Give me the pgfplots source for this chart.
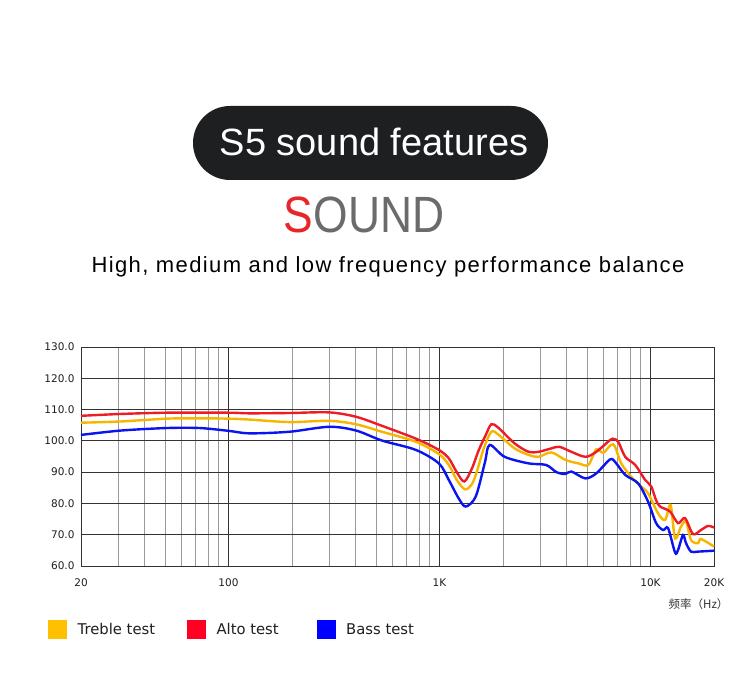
\documentclass[border=0pt]{standalone}
\usepackage{pgfplots}
\pgfplotsset{compat=1.18}
\usepackage{fontspec}
\setmainfont{Liberation Sans}
\newfontfamily\cjk{Noto Sans CJK SC}
\newfontfamily\dejavu{DejaVu Sans}
\definecolor{pillcol}{HTML}{1E1F21}
\definecolor{sred}{HTML}{E8262A}
\definecolor{sgray}{HTML}{6B6B6B}
\definecolor{cyel}{HTML}{F7B500}
\definecolor{cred}{HTML}{EE1C25}
\definecolor{cblue}{HTML}{0A14F0}
\definecolor{lyel}{HTML}{FFC000}
\definecolor{lred}{HTML}{FF0022}
\definecolor{lblue}{HTML}{0000FF}
\definecolor{gridmajor}{HTML}{333333}
\definecolor{gridminor}{HTML}{9A9A9A}
\begin{document}
\begin{tikzpicture}[x=1pt,y=1pt]
\useasboundingbox (0,0) rectangle (749,684);
\fill[white] (0,0) rectangle (749,684);
% title pill
\fill[pillcol, rounded corners=37pt] (193,504) rectangle (548,578);
\node[text=white, anchor=center] at (374,542) {\fontsize{38}{38}\selectfont S5 sound features};
% SOUND
\node[anchor=center] at (364,469) {\fontsize{51}{51}\selectfont\scalebox{0.87}[1]{\textcolor{sred}{S}\textcolor{sgray}{OUND}}};
% subtitle
\node[anchor=center, text=black] at (388,417) {\fontsize{22}{22}\selectfont\addfontfeatures{LetterSpace=6.3}High, medium and low frequency performance balance};
\begin{axis}[
  at={(81pt,118pt)}, anchor=south west,
  scale only axis, width=633pt, height=219pt,
  xmode=log, xmin=20, xmax=20000, ymin=60, ymax=130,
  xtick={20,100,1000,10000,20000},
  xticklabels={20,100,1K,10K,20K},
  minor xtick={30,40,50,60,70,80,90,200,300,400,500,600,700,800,900,2000,3000,4000,5000,6000,7000,8000,9000},
  ytick={60,70,80,90,100,110,120,130},
  yticklabel style={xshift=-3pt, /pgf/number format/.cd, fixed, fixed zerofill, precision=1, assume math mode=true},
  xticklabel style={yshift=-9pt},
  ticklabel style={font=\dejavu\fontsize{10.5}{10.5}\selectfont, text=black!88},
  major tick length=0pt, minor tick length=0pt,
  xmajorgrids, ymajorgrids, xminorgrids,
  major grid style={draw=gridmajor, line width=0.8pt},
  minor grid style={draw=gridminor, line width=0.8pt},
  axis line style={draw=gridmajor, line width=0.9pt},
  legend columns=3,
  legend style={at={(-0.052,-0.29)}, anchor=west, draw=none, fill=none, inner sep=0pt,
     font=\dejavu\fontsize{14.8}{14.8}\selectfont, text=black!88,
     /tikz/every odd column/.append style={column sep=9pt},
     /tikz/every even column/.append style={column sep=30pt}},
  legend cell align=left,
  legend image code/.code={\fill (0pt,-9pt) rectangle (18pt,9pt);},
  clip=false,
]
% Treble (yellow)
\addplot[color=cyel, line width=2.4pt, smooth, forget plot] coordinates {
(20,105.8) (31,106.2) (51,107.1) (73,107.2) (100,107.1) (126,106.8) (194,106.0) (300,106.4) (402,105.3) (534,102.9) (773,99.7) (993,95.8) (1107,92.3) (1207,87.5) (1320,84.5) (1420,86.0) (1500,90.0) (1620,97.5) (1760,102.9) (1900,102.0) (2268,97.6) (2642,95.5) (2946,94.9) (3394,96.3) (3951,93.9) (4551,92.8) (5074,92.3) (5535,97.3) (5973,96.2) (6660,98.9) (7266,92.8) (8102,88.5) (9032,85.4) (9746,83.2) (10866,76.8) (11726,74.7) (12450,79.5) (13072,68.8) (13954,72.6) (14734,74.2) (15558,68.3) (16790,67.3) (17346,68.6) (20000,66.2)
};
% Alto (red)
\addplot[color=cred, line width=2.4pt, smooth, forget plot] coordinates {
(20,108.0) (31,108.6) (51,109.0) (100,109.0) (126,108.8) (194,108.9) (300,109.1) (402,107.7) (534,104.8) (780,100.6) (993,97.1) (1107,94.4) (1207,90.0) (1310,87.0) (1421,91.0) (1534,97.0) (1655,101.8) (1760,105.3) (1900,104.2) (2268,99.2) (2642,96.5) (2946,96.5) (3394,97.6) (3700,98.1) (4217,96.5) (4911,94.9) (5535,96.5) (6446,100.3) (6700,100.6) (7034,99.7) (7590,94.9) (8462,92.3) (9434,87.5) (10068,85.5) (10632,81.0) (11104,79.0) (12380,77.4) (13506,73.7) (14574,75.3) (15900,70.2) (17346,71.5) (18720,72.8) (20000,72.3)
};
% Bass (blue)
\addplot[color=cblue, line width=2.4pt, smooth, forget plot] coordinates {
(20,101.9) (31,103.3) (51,104.1) (73,104.1) (100,103.2) (126,102.4) (194,102.9) (300,104.5) (402,103.3) (534,100.1) (773,97.1) (993,92.8) (1107,87.5) (1233,81.6) (1331,79.0) (1485,82.2) (1640,93.0) (1729,98.7) (2035,94.9) (2642,92.8) (3200,92.3) (3582,90.0) (3951,89.4) (4217,90.2) (4911,88.0) (5535,89.6) (6446,94.1) (6882,92.8) (7590,89.1) (8742,86.4) (9746,80.5) (10632,73.7) (11472,71.5) (12114,72.1) (13072,64.3) (13506,65.1) (14260,69.9) (14734,67.3) (15558,64.6) (16790,64.6) (20000,64.9)
};
\addlegendimage{color=lyel}
\addlegendentry{Treble test}
\addlegendimage{color=lred}
\addlegendentry{Alto test\kern6pt}
\addlegendimage{color=lblue}
\addlegendentry{Bass test}
\end{axis}
\node[anchor=east, text=black!80] at (732,80) {\fontsize{11.5}{11.5}\selectfont\cjk 频率（Hz）};
\end{tikzpicture}
\end{document}
